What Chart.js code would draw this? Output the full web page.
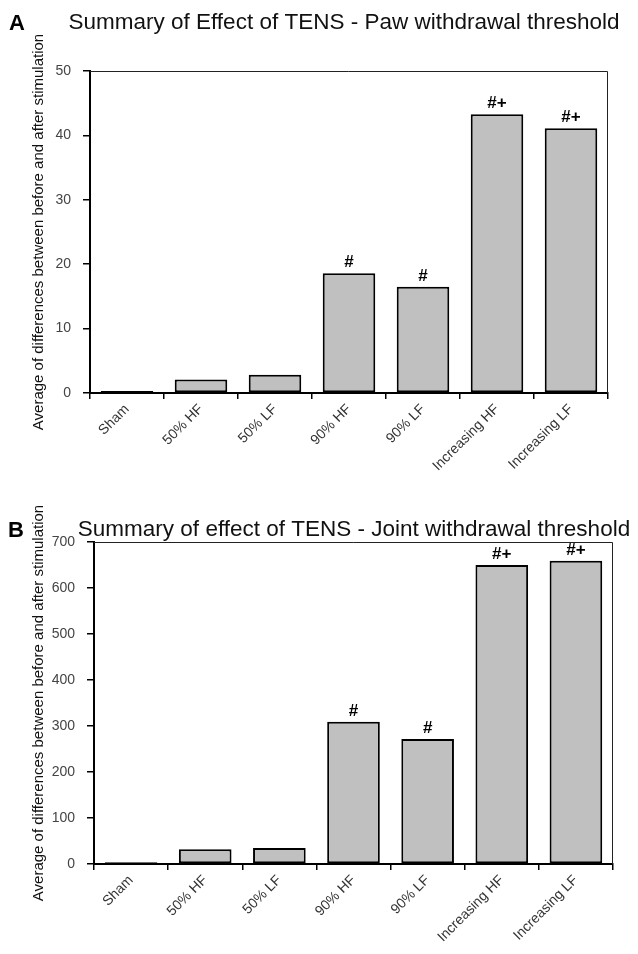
<!DOCTYPE html>
<html>
<head>
<meta charset="utf-8">
<script src="https://cdn.jsdelivr.net/npm/chart.js@4"></script>
<style>
  body { margin: 0; background: #fff; }
  .panel { position: absolute; left: 0; }
</style>
</head>
<body>
<div class="panel" style="top:0"><canvas id="pawChart" width="638" height="477"></canvas></div>
<div class="panel" style="top:477px"><canvas id="jointChart" width="638" height="477"></canvas></div>
<script>
// categories shared by both panels
const categories = ["Sham", "50% HF", "50% LF", "90% HF", "90% LF", "Increasing HF", "Increasing LF"];

// panel A - paw withdrawal threshold
const pawValues = [0.3, 2.1, 2.85, 18.6, 16.5, 43.3, 41.1];
const pawMarks = ["", "", "", "#", "#", "#+", "#+"];
const pawTicks = [0, 10, 20, 30, 40, 50];

// panel B - joint withdrawal threshold
const jointValues = [4, 32, 35, 309, 272, 650, 659];
const jointMarks = ["", "", "", "#", "#", "#+", "#+"];
const jointTicks = [0, 100, 200, 300, 400, 500, 600, 700];

const yTitle = "Average of differences between before and after stimulation";
const FONT = "'Liberation Sans', Arial, sans-serif";

// draws the panel letter, the heading, the box frame and the # marks
const decorPlugin = {
  id: "decor",
  afterDraw(chart, args, opts) {
    const ctx = chart.ctx;
    const area = chart.chartArea;
    ctx.save();
    // thin frame on top and right
    ctx.strokeStyle = "#222";
    ctx.lineWidth = 1;
    ctx.beginPath();
    ctx.moveTo(area.left, area.top + 0.5);
    ctx.lineTo(area.right - 0.5, area.top + 0.5);
    ctx.lineTo(area.right - 0.5, area.bottom);
    ctx.stroke();

    // significance marks above bars
    ctx.fillStyle = "#000";
    ctx.font = "bold 17px " + FONT;
    ctx.textAlign = "center";
    ctx.textBaseline = "alphabetic";
    const bars = chart.getDatasetMeta(0).data;
    opts.marks.forEach((m, i) => {
      if (m) ctx.fillText(m, bars[i].x, bars[i].y - 6);
    });

    // letter + heading
    ctx.textAlign = "left";
    ctx.font = "bold 22px " + FONT;
    ctx.fillText(opts.letter, opts.letterX, opts.titleY + 1);
    ctx.textAlign = "center";
    ctx.font = "22.5px " + FONT;
    ctx.fillStyle = "#111";
    ctx.fillText(opts.title, opts.titleX, opts.titleY);
    ctx.restore();
  }
};

function makeChart(id, values, marks, ticks, cfg) {
  const ctx = document.getElementById(id).getContext("2d");
  return new Chart(ctx, {
    type: "bar",
    data: {
      labels: categories,
      datasets: [{
        data: values,
        backgroundColor: "#c0c0c0",
        borderColor: "#000",
        borderWidth: 2,
        borderSkipped: false,
        barPercentage: 0.71,
        categoryPercentage: 1
      }]
    },
    plugins: [decorPlugin],
    options: {
      responsive: false,
      animation: false,
      layout: { padding: { top: cfg.top, right: cfg.right, left: 0, bottom: 0 } },
      plugins: {
        legend: { display: false },
        tooltip: { enabled: false },
        decor: cfg.decor
      },
      scales: {
        x: {
          afterFit: (s) => { s.height = cfg.xHeight; },
          grid: { drawOnChartArea: false, drawTicks: true, tickLength: 6, color: "#000", lineWidth: 1.5 },
          border: { display: true, color: "#000", width: 2 },
          ticks: {
            autoSkip: false,
            minRotation: 45,
            maxRotation: 45,
            padding: 2,
            color: "#333",
            font: { family: FONT, size: 14 }
          }
        },
        y: {
          min: 0,
          max: ticks[ticks.length - 1],
          afterFit: (s) => { s.width = cfg.yWidth; },
          afterBuildTicks: (s) => { s.ticks = ticks.map((v) => ({ value: v })); },
          grid: { drawOnChartArea: false, drawTicks: true, tickLength: 7, color: "#000", lineWidth: 1.5 },
          border: { display: true, color: "#000", width: 2 },
          ticks: {
            padding: 12,
            color: "#444",
            font: { family: FONT, size: 14 }
          },
          title: {
            display: true,
            text: yTitle,
            color: "#111",
            padding: { top: 30, bottom: 0 },
            font: { family: FONT, size: 15 }
          }
        }
      }
    }
  });
}

makeChart("pawChart", pawValues, pawMarks, pawTicks, {
  top: 71, right: 30, xHeight: 84, yWidth: 90,
  decor: {
    marks: pawMarks, letter: "A", letterX: 9, titleX: 344, titleY: 29,
    title: "Summary of Effect of TENS - Paw withdrawal threshold"
  }
});

makeChart("jointChart", jointValues, jointMarks, jointTicks, {
  top: 65, right: 25, xHeight: 90, yWidth: 94,
  decor: {
    marks: jointMarks, letter: "B", letterX: 8, titleX: 354, titleY: 59,
    title: "Summary of effect of TENS - Joint withdrawal threshold"
  }
});
</script>
</body>
</html>
